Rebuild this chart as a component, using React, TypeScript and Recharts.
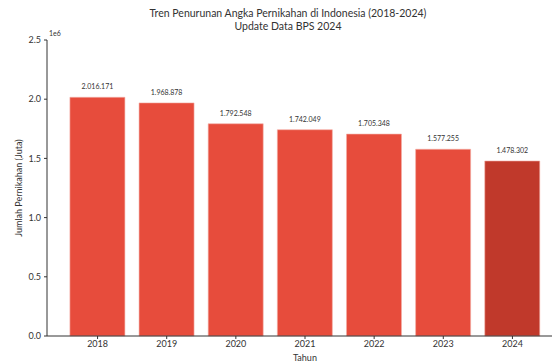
import { BarChart, Bar, XAxis, YAxis, Cell, LabelList } from "recharts";

const years = ["2018", "2019", "2020", "2021", "2022", "2023", "2024"];
const marriages = [2016171, 1968878, 1792548, 1742049, 1705348, 1577255, 1478302];
const barColors = ["#e74c3c", "#e74c3c", "#e74c3c", "#e74c3c", "#e74c3c", "#e74c3c", "#c0392b"];
const yTicks = [0, 500000, 1000000, 1500000, 2000000, 2500000];

const chartData = years.map((year, i) => ({ year, value: marriages[i] }));

const fmtThousands = (v: number) => String(v).replace(/\B(?=(\d{3})+(?!\d))/g, ".");

const font = "Lato, 'Open Sans', sans-serif";
const ink = "#333";

export default function App() {
  return (
    <div
      style={{
        position: "fixed",
        top: 0,
        left: 0,
        width: 552,
        height: 362,
        overflow: "hidden",
        background: "white",
        fontFamily: font,
        color: ink,
      }}
    >
      <BarChart
        width={600}
        height={362}
        data={chartData}
        margin={{ top: 40, right: 37, left: 7, bottom: 0 }}
        barCategoryGap="10%"
      >
        <XAxis
          dataKey="year"
          padding={{ left: 16, right: 16 }}
          height={26}
          tickSize={3}
          tickMargin={2}
          stroke={ink}
          tick={{ fontSize: 9, fill: ink, fontFamily: font }}
        />
        <YAxis
          width={40}
          domain={[0, 2500000]}
          ticks={yTicks}
          tickSize={3}
          tickMargin={3}
          stroke={ink}
          tick={{ fontSize: 9, fill: ink, fontFamily: font }}
          tickFormatter={(v: number) => (v / 1e6).toFixed(1)}
        />
        <Bar dataKey="value" isAnimationActive={false} stroke="#f4b0a8" strokeWidth={0.6}>
          {chartData.map((d, i) => (
            <Cell key={d.year} fill={barColors[i]} />
          ))}
          <LabelList
            dataKey="value"
            position="top"
            offset={8}
            formatter={(v: any) => fmtThousands(Number(v))}
            style={{ fontSize: 7, fill: ink, fontFamily: font }}
          />
        </Bar>
      </BarChart>

      <div style={{ position: "absolute", top: 7, left: 0, width: 576, textAlign: "center", fontSize: 10.5, lineHeight: "13px" }}>
        Tren Penurunan Angka Pernikahan di Indonesia (2018-2024)
        <br />
        Update Data BPS 2024
      </div>
      <div style={{ position: "absolute", top: 29, left: 49, fontSize: 7 }}>1e6</div>
      <div
        style={{
          position: "absolute",
          left: 18,
          top: 188,
          fontSize: 9,
          whiteSpace: "nowrap",
          transform: "translate(-50%, -50%) rotate(-90deg)",
        }}
      >
        Jumlah Pernikahan (Juta)
      </div>
      <div style={{ position: "absolute", left: 305, top: 352, fontSize: 9, transform: "translateX(-50%)" }}>Tahun</div>
    </div>
  );
}
